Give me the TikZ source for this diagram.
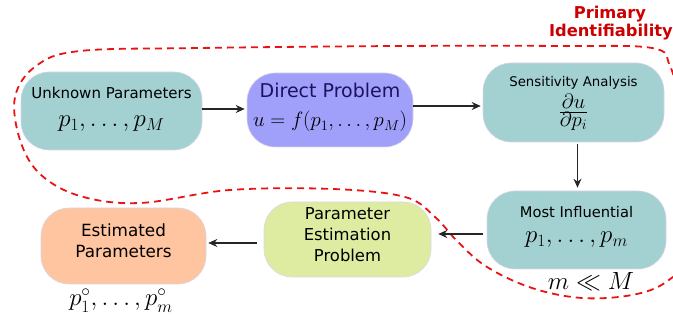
\documentclass[tikz,border=0pt]{standalone}
\usepackage{fontspec}
\setmainfont{DejaVu Sans}
\usetikzlibrary{arrows.meta}
\definecolor{tealbox}{RGB}{163,208,209}
\definecolor{bluebox}{RGB}{160,160,250}
\definecolor{peachbox}{RGB}{255,196,160}
\definecolor{limebox}{RGB}{222,236,162}
\definecolor{boxline}{RGB}{215,215,230}
\definecolor{navytext}{RGB}{28,18,96}
\definecolor{curvered}{RGB}{232,20,20}
\definecolor{labelred}{RGB}{204,0,0}
\newcommand{\fsz}[1]{\fontsize{#1}{#1}\selectfont}
\begin{document}
\begin{tikzpicture}[x=1pt,y=-1pt,
  box/.style={draw=boxline, line width=0.6pt, rounded corners=28pt, inner sep=0pt},
  txt/.style={anchor=base, inner sep=0pt},
  arr/.style={draw=black!85, line width=1.1pt, -{Stealth[length=9pt,width=8pt]}},
  loopline/.style={draw=curvered, line width=1.8pt, dash pattern=on 7pt off 5pt}]
\useasboundingbox (0,0) rectangle (673,323);
\begin{scope}
\clip (0,0) rectangle (673,323);
\draw[loopline] plot[smooth cycle, tension=0.6] coordinates {
 (700,180) (682,110) (670,66) (652,48) (560,46) (400,46) (200,48) (80,51) (36,66) (15,97)
 (20,140) (40,174) (80,196) (140,203) (230,190) (333,189) (405,197) (435,217)
 (458,242) (487,267) (532,288) (582,298) (632,295) (666,282) (692,252)};
\end{scope}
% boxes
\node[box, fill=tealbox, minimum width=181pt, minimum height=78pt] (U) at (111.5,111) {};
\node[box, fill=bluebox, minimum width=166pt, minimum height=74pt] (D) at (330,110) {};
\node[box, fill=tealbox, minimum width=181pt, minimum height=79pt] (S) at (573.5,102.5) {};
\node[box, fill=tealbox, minimum width=179pt, minimum height=78pt] (M) at (576.5,230) {};
\node[box, fill=limebox, minimum width=167pt, minimum height=75pt] (P) at (347.5,239.5) {};
\node[box, fill=peachbox, minimum width=165pt, minimum height=76pt] (E) at (123.5,246) {};
% texts
\node[txt] (Ut) at (111.5,99) {\fsz{15}Unknown Parameters};
\node[txt] (Um) at (111.5,127) {\fsz{26}$p_1,\ldots,p_M$};
\node[txt, text=navytext] (Dt) at (330,98) {\fsz{19}Direct Problem};
\node[txt] (Dm) at (330,127) {\fsz{21.5}$u=f(p_1,\ldots,p_M)$};
\node[txt] (St) at (573.5,87) {\fsz{13.3}Sensitivity Analysis};
\node[txt] (Sm) at (573.5,117) {\fsz{21}$\frac{\displaystyle\partial u}{\displaystyle\partial p_i}$};
\node[txt] (Mt) at (576.5,218) {\fsz{14.7}Most Influential};
\node[txt] (Mm) at (576.5,243) {\fsz{26}$p_1,\ldots,p_m$};
\node[txt] (Pt1) at (347.5,220) {\fsz{16.4}Parameter};
\node[txt] (Pt2) at (347.5,241) {\fsz{16.4}Estimation};
\node[txt] (Pt3) at (347.5,262) {\fsz{16.4}Problem};
\node[txt] (Et1) at (123.5,237) {\fsz{16.8}Estimated};
\node[txt] (Et2) at (123.5,258) {\fsz{16.8}Parameters};
\node[txt] (Ep) at (121,306) {\fsz{26}$p_1^\circ,\ldots,p_m^\circ$};
\node[txt] (mM) at (591,290) {\fsz{25}$m\ll M$};
\node[txt, anchor=base, text=labelred, font=\bfseries] (L1) at (610,19) {\fsz{16.3}Primary};
\node[txt, anchor=base east, text=labelred, font=\bfseries] (L2) at (673,37) {\fsz{16.3}Identifiability};
% arrows
\draw[arr, shorten >=2pt] ([yshift=2pt]U.east) -- ([yshift=2pt]U.east -| D.west);
\draw[arr, shorten >=2pt] ([yshift=4pt]D.east) -- ([yshift=4pt]D.east -| S.west);
\draw[arr, shorten <=2pt, shorten >=3pt] ([xshift=4pt]S.south) -- ([xshift=4pt]S.south |- M.north);
\draw[arr, shorten <=4pt, shorten >=7pt] ([yshift=-4pt]M.west) -- ([yshift=-4pt]M.west -| P.east);
\draw[arr, shorten <=7pt, shorten >=2pt] ([yshift=-3.5pt]P.west) -- ([yshift=-3.5pt]P.west -| E.east);
\end{tikzpicture}
\end{document}
